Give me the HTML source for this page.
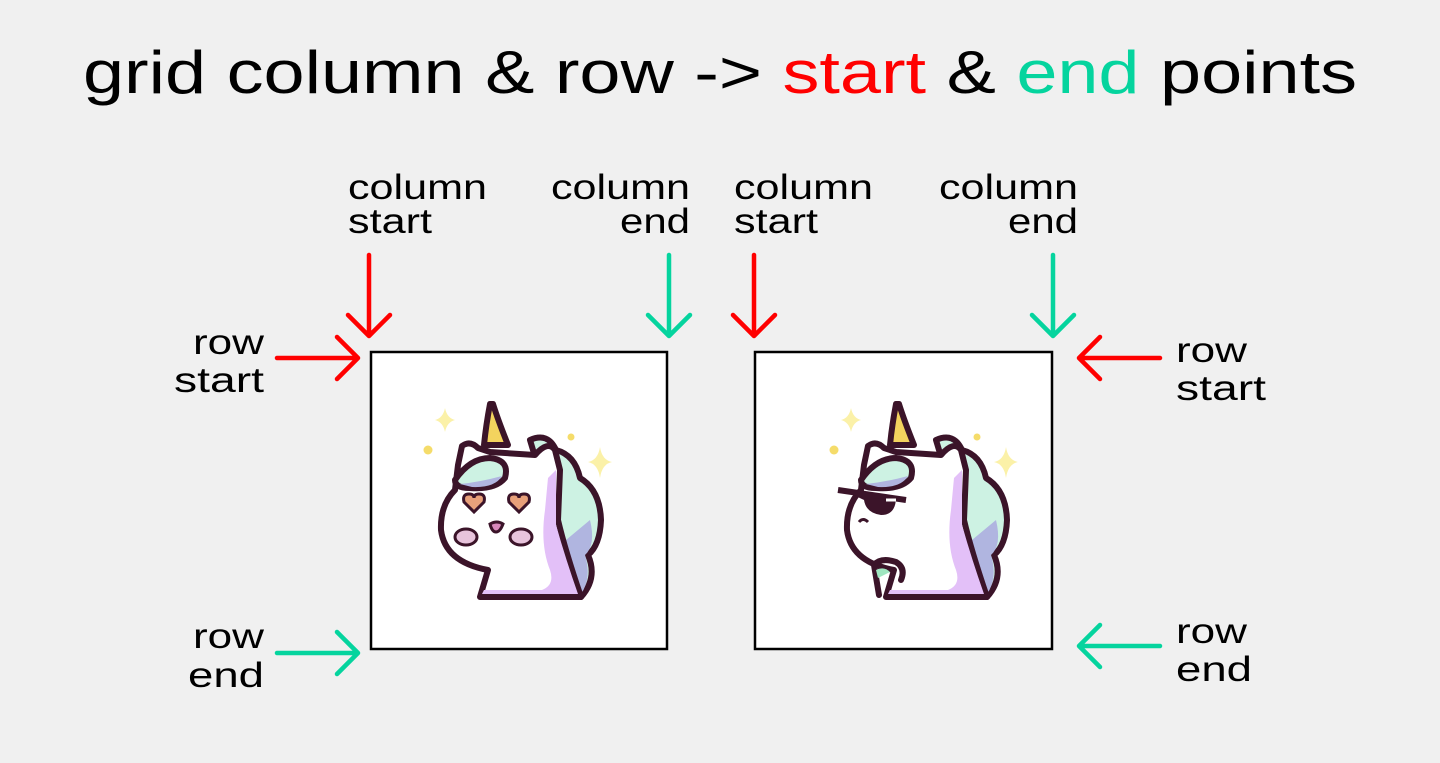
<!DOCTYPE html>
<html><head><meta charset="utf-8"><style>
html,body{margin:0;padding:0;background:#f0f0f0;}
svg{display:block;}
text{font-family:"Liberation Sans",sans-serif;fill:#000;}
</style></head><body>
<svg width="1440" height="763" viewBox="0 0 1440 763" xmlns="http://www.w3.org/2000/svg">
<rect width="1440" height="763" fill="#f0f0f0"/>
<text x="83" y="93" font-size="60" textLength="1274" lengthAdjust="spacingAndGlyphs">grid column &amp; row -&gt; <tspan style="fill:#ff0000">start</tspan> &amp; <tspan style="fill:#05d49e">end</tspan> points</text>

<g font-size="35">
<text x="348" y="199" textLength="139" lengthAdjust="spacingAndGlyphs">column</text>
<text x="348" y="233" textLength="84" lengthAdjust="spacingAndGlyphs">start</text>
<text x="551" y="199" textLength="139" lengthAdjust="spacingAndGlyphs">column</text>
<text x="620" y="233" textLength="70" lengthAdjust="spacingAndGlyphs">end</text>
<text x="734" y="199" textLength="139" lengthAdjust="spacingAndGlyphs">column</text>
<text x="734" y="233" textLength="84" lengthAdjust="spacingAndGlyphs">start</text>
<text x="939" y="199" textLength="139" lengthAdjust="spacingAndGlyphs">column</text>
<text x="1008" y="233" textLength="70" lengthAdjust="spacingAndGlyphs">end</text>
<text x="193" y="354" textLength="71" lengthAdjust="spacingAndGlyphs">row</text>
<text x="174" y="392" textLength="90" lengthAdjust="spacingAndGlyphs">start</text>
<text x="1176" y="362" textLength="71" lengthAdjust="spacingAndGlyphs">row</text>
<text x="1176" y="400" textLength="90" lengthAdjust="spacingAndGlyphs">start</text>
<text x="193" y="648" textLength="71" lengthAdjust="spacingAndGlyphs">row</text>
<text x="188" y="687" textLength="76" lengthAdjust="spacingAndGlyphs">end</text>
<text x="1176" y="643" textLength="71" lengthAdjust="spacingAndGlyphs">row</text>
<text x="1176" y="681" textLength="76" lengthAdjust="spacingAndGlyphs">end</text>
</g>

<rect x="371" y="352" width="296" height="297" fill="#fff" stroke="#000" stroke-width="2.5"/>
<rect x="755" y="352" width="297" height="297" fill="#fff" stroke="#000" stroke-width="2.5"/>

<g fill="none" stroke-width="4.5" stroke-linecap="round" stroke-linejoin="round">
<g stroke="#ff0000">
<path d="M369 255 V336 M348 315 L369 336 L390 315"/>
<path d="M754 255 V336 M733 315 L754 336 L775 315"/>
<path d="M277 358 H358 M337 337 L358 358 L337 379"/>
<path d="M1160 358 H1079 M1100 337 L1079 358 L1100 379"/>
</g>
<g stroke="#05d49e">
<path d="M669 255 V336 M648 315 L669 336 L690 315"/>
<path d="M1053 255 V336 M1032 315 L1053 336 L1074 315"/>
<path d="M277 653 H358 M337 632 L358 653 L337 674"/>
<path d="M1160 646 H1079 M1100 625 L1079 646 L1100 667"/>
</g>
</g>

<defs>
<g id="uni">
  <path d="M445 408 Q447 418 455 420 Q447 422 445 432 Q443 422 435 420 Q443 418 445 408Z" fill="#fbf1a8"/>
  <path d="M600 447 Q602 460 612 462 Q602 464 600 478 Q598 464 588 462 Q598 460 600 447Z" fill="#fbf1a8"/>
  <circle cx="428" cy="450" r="4.5" fill="#f5dc6a"/>
  <circle cx="571" cy="437" r="3.5" fill="#f5dc6a"/>
  <path d="M530 440 Q548 432 556 450 Q575 455 580 478 Q600 490 601 520 Q600 545 588 555 Q598 578 581 597 L560 597 Q552 540 548 500 Z" fill="#cdf2e3" stroke="#3b1429" stroke-width="6" stroke-linejoin="round"/>
  <path d="M590 520 Q596 545 585 555 Q592 578 581 594 L568 594 Q560 560 566 540 Z" fill="#b0b5e0"/>
  <path d="M462 446 Q470 440 478 448 L490 452 L535 455 Q548 440 555 450 L560 470 L558 520 Q565 550 581 597 L480 597 L488 570 Q445 562 441 530 Q440 505 455 490 L458 465 Z" fill="#fff" stroke="#3b1429" stroke-width="6" stroke-linejoin="round"/>
  <path d="M548 478 L556 470 L556 525 Q566 560 578 594 L482 594 L484 590 L542 590 Q555 585 550 570 Q540 545 545 510Z" fill="#e3c0f8"/>
  <path d="M490 404 Q486 425 484 445 L508 445 Q498 420 493 404 Z" fill="#f3d35e" stroke="#3b1429" stroke-width="6" stroke-linejoin="round"/>
  <path d="M455 480 Q470 458 490 458 Q510 460 505 478 Q495 490 470 488 Q455 488 455 480Z" fill="#cdf2e3" stroke="#3b1429" stroke-width="6" stroke-linejoin="round"/>
  <path d="M460 484 Q480 482 502 476 Q495 488 472 487Z" fill="#b0b5e0"/>
</g>
</defs>

<use href="#uni"/>
<path d="M474 512 L464 502 Q462 494 469 494 Q474 494 474 498 Q474 494 479 494 Q486 494 484 502 Z" fill="#e8a07a" stroke="#3b1429" stroke-width="3"/>
<path d="M519 512 L509 502 Q507 494 514 494 Q519 494 519 498 Q519 494 524 494 Q531 494 529 502 Z" fill="#e8a07a" stroke="#3b1429" stroke-width="3"/>
<ellipse cx="466" cy="537" rx="11" ry="8" fill="#e8c4dc" stroke="#3b1429" stroke-width="3"/>
<ellipse cx="521" cy="537" rx="11" ry="8" fill="#e8c4dc" stroke="#3b1429" stroke-width="3"/>
<path d="M490 524 Q497 520 503 524 Q500 532 496 532 Q492 532 490 524Z" fill="#d888bb" stroke="#3b1429" stroke-width="3"/>

<g transform="translate(406 0)">
<use href="#uni"/>
<path d="M437 490 L490 497 Q490 515 475 515 Q460 513 458 500 Z" fill="#3b1429"/>
<path d="M432 490 L500 500" stroke="#3b1429" stroke-width="6"/>
<path d="M480 500 L490 500" stroke="#fff" stroke-width="3"/>
<path d="M453 522 Q457 517 462 522" stroke="#3b1429" stroke-width="3" fill="none"/>
<path d="M473 595 L468 565 Q475 557 490 562 Q500 568 495 580" fill="none" stroke="#3b1429" stroke-width="6" stroke-linecap="round"/>
<path d="M470 570 Q478 566 484 572 L472 578Z" fill="#9fe6c0"/>
</g>
</svg>
</body></html>
